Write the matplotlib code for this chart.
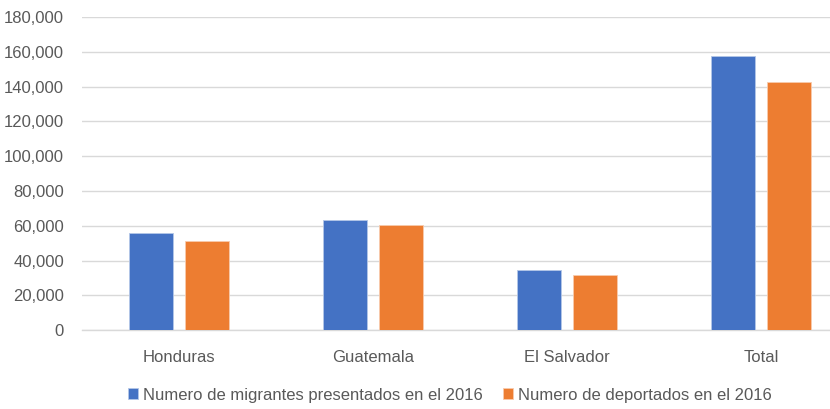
import numpy as np
import matplotlib
matplotlib.use("Agg")
import matplotlib.pyplot as plt
from matplotlib.ticker import FuncFormatter

plt.rcParams["font.family"] = ["Liberation Sans", "DejaVu Sans"]

categories = ["Honduras", "Guatemala", "El Salvador", "Total"]
migrantes = [55600, 63300, 34500, 157700]
deportados = [51400, 60400, 31400, 142800]
series_labels = ["Numero de migrantes presentados en el 2016", "Numero de deportados en el 2016"]

BLUE = "#4472C4"
ORANGE = "#ED7D31"
GREY_TXT = "#595959"
GRID = "#d9d9d9"

fig = plt.figure(figsize=(8.30, 4.09), dpi=100)
ax = fig.add_axes([0.0988, 0.193, 0.935, 0.765])

x = np.arange(len(categories))
w = 0.227
off = 0.143
b1 = ax.bar(x - off, migrantes, w, color=BLUE, edgecolor="#b4c7e7", linewidth=0.6, label=series_labels[0], zorder=3)
b2 = ax.bar(x + off, deportados, w, color=ORANGE, edgecolor="#f8cbad", linewidth=0.6, label=series_labels[1], zorder=3)

ax.set_xlim(-0.5, len(categories) - 0.5)
ax.set_ylim(0, 180000)
ax.set_yticks(np.arange(0, 180001, 20000))
ax.yaxis.set_major_formatter(FuncFormatter(lambda v, p: f"{int(v):,}"))
ax.grid(axis="y", color=GRID, linewidth=1, zorder=0)
ax.set_xticks(x)
ax.set_xticklabels(categories)
for s in ["top", "right", "left"]:
    ax.spines[s].set_visible(False)
ax.spines["bottom"].set_color(GRID)
ax.spines["bottom"].set_linewidth(1)
ax.tick_params(axis="both", length=0, colors=GREY_TXT, labelsize=12)
ax.tick_params(axis="x", pad=14)
ax.tick_params(axis="y", pad=13)

fig.legend(handles=[b1, b2], loc="center", bbox_to_anchor=(0.542, 0.034), ncol=2, frameon=False,
           fontsize=12, labelcolor=GREY_TXT, handlelength=0.6, handleheight=0.6,
           handletextpad=0.3, columnspacing=1.2)

fig.savefig("out.png", dpi=100)
